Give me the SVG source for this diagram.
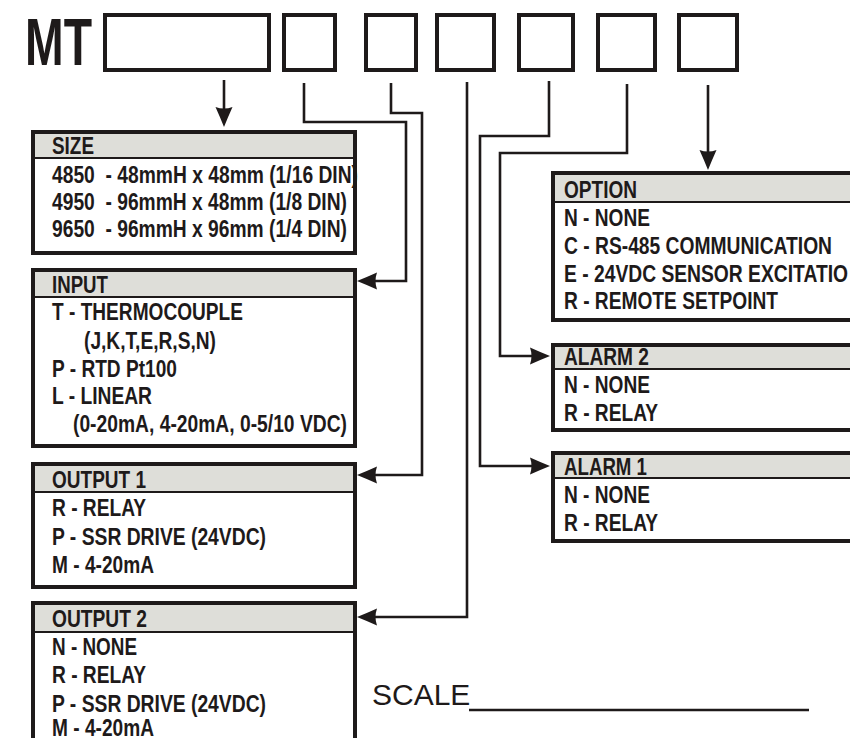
<svg xmlns="http://www.w3.org/2000/svg" width="850" height="738" viewBox="0 0 850 738">
<defs>
<style>
.slot{fill:none;stroke:#1e1a1a;stroke-width:4}
.box{fill:#fff;stroke:#1e1a1a;stroke-width:4}
.hdr{fill:#deded9}
.sep{stroke:#1e1a1a;stroke-width:2}
.t{font-family:"Liberation Sans Narrow","Liberation Sans",Arial,sans-serif;font-weight:bold;font-size:23px;fill:#1e1a1a;white-space:pre}
.conn{fill:none;stroke:#1e1a1a;stroke-width:2.6;stroke-linejoin:miter}
</style>
<marker id="ah" markerUnits="userSpaceOnUse" markerWidth="21" markerHeight="19" viewBox="0 0 21 19" refX="15" refY="9.5" orient="auto">
<path d="M20,9.5 Q10,5.5 0,1 Q3,9.5 0,18 Q10,13.5 20,9.5Z" fill="#1e1a1a"/>
</marker>
</defs>
<rect width="850" height="738" fill="#fff"/>

<g id="header">
<text x="25" y="65" font-family="Liberation Sans Narrow,Liberation Sans,Arial,sans-serif" font-weight="bold" font-size="67" fill="#1e1a1a" textLength="67" lengthAdjust="spacingAndGlyphs">MT</text>
<rect class="slot" x="105" y="15" width="164" height="55"/>
<rect class="slot" x="284" y="15" width="51" height="55"/>
<rect class="slot" x="366" y="15" width="50" height="55"/>
<rect class="slot" x="437" y="15" width="57" height="55"/>
<rect class="slot" x="519" y="15" width="54" height="55"/>
<rect class="slot" x="598" y="15" width="57" height="55"/>
<rect class="slot" x="679" y="15" width="58" height="55"/>
</g>

<g id="connectors">
<path class="conn" d="M224,80 V122" marker-end="url(#ah)"/>
<path class="conn" d="M304,83 V122 H406 V281 H362" marker-end="url(#ah)"/>
<path class="conn" d="M391,83 V113 H422 V475 H362" marker-end="url(#ah)"/>
<path class="conn" d="M467,82 V617 H362" marker-end="url(#ah)"/>
<path class="conn" d="M549,81 V136 H480 V466 H545" marker-end="url(#ah)"/>
<path class="conn" d="M627,84 V153 H500 V356 H545" marker-end="url(#ah)"/>
<path class="conn" d="M708,85 V165" marker-end="url(#ah)"/>
</g>

<g id="size">
<rect class="box" x="33" y="132" width="322" height="121"/>
<rect class="hdr" x="35" y="134" width="318" height="24"/>
<line class="sep" x1="35" y1="158" x2="355" y2="158"/>
<text class="t" x="52" y="154" textLength="42" lengthAdjust="spacingAndGlyphs">SIZE</text>
<text class="t" x="52" y="183" textLength="306" lengthAdjust="spacingAndGlyphs">4850  - 48mmH x 48mm (1/16 DIN)</text>
<text class="t" x="52" y="210" textLength="295" lengthAdjust="spacingAndGlyphs">4950  - 96mmH x 48mm (1/8 DIN)</text>
<text class="t" x="52" y="237" textLength="295" lengthAdjust="spacingAndGlyphs">9650  - 96mmH x 96mm (1/4 DIN)</text>
</g>

<g id="input">
<rect class="box" x="33" y="270" width="322" height="176"/>
<rect class="hdr" x="35" y="272" width="318" height="25"/>
<line class="sep" x1="35" y1="297" x2="355" y2="297"/>
<text class="t" x="52" y="293" textLength="56" lengthAdjust="spacingAndGlyphs">INPUT</text>
<text class="t" x="52" y="320" textLength="191" lengthAdjust="spacingAndGlyphs">T - THERMOCOUPLE</text>
<text class="t" x="84" y="349" textLength="132" lengthAdjust="spacingAndGlyphs">(J,K,T,E,R,S,N)</text>
<text class="t" x="52" y="377" textLength="125" lengthAdjust="spacingAndGlyphs">P - RTD Pt100</text>
<text class="t" x="52" y="404" textLength="100" lengthAdjust="spacingAndGlyphs">L - LINEAR</text>
<text class="t" x="73" y="432" textLength="274" lengthAdjust="spacingAndGlyphs">(0-20mA, 4-20mA, 0-5/10 VDC)</text>
</g>

<g id="output1">
<rect class="box" x="33" y="464" width="322" height="123"/>
<rect class="hdr" x="35" y="466" width="318" height="26"/>
<line class="sep" x1="35" y1="492" x2="355" y2="492"/>
<text class="t" x="52" y="488" textLength="94" lengthAdjust="spacingAndGlyphs">OUTPUT 1</text>
<text class="t" x="52" y="516" textLength="94" lengthAdjust="spacingAndGlyphs">R - RELAY</text>
<text class="t" x="52" y="545" textLength="214" lengthAdjust="spacingAndGlyphs">P - SSR DRIVE (24VDC)</text>
<text class="t" x="52" y="573" textLength="102" lengthAdjust="spacingAndGlyphs">M - 4-20mA</text>
</g>

<g id="output2">
<rect class="box" x="33" y="603" width="322" height="200"/>
<rect class="hdr" x="35" y="605" width="318" height="27"/>
<line class="sep" x1="35" y1="632" x2="355" y2="632"/>
<text class="t" x="52" y="627" textLength="95" lengthAdjust="spacingAndGlyphs">OUTPUT 2</text>
<text class="t" x="52" y="655" textLength="85" lengthAdjust="spacingAndGlyphs">N - NONE</text>
<text class="t" x="52" y="683" textLength="94" lengthAdjust="spacingAndGlyphs">R - RELAY</text>
<text class="t" x="52" y="712" textLength="214" lengthAdjust="spacingAndGlyphs">P - SSR DRIVE (24VDC)</text>
<text class="t" x="52" y="736" textLength="102" lengthAdjust="spacingAndGlyphs">M - 4-20mA</text>
</g>

<g id="option">
<rect class="box" x="553" y="173" width="400" height="147"/>
<rect class="hdr" x="555" y="175" width="396" height="27"/>
<line class="sep" x1="555" y1="202" x2="850" y2="202"/>
<text class="t" x="564" y="198" textLength="73" lengthAdjust="spacingAndGlyphs">OPTION</text>
<text class="t" x="564" y="226" textLength="86" lengthAdjust="spacingAndGlyphs">N - NONE</text>
<text class="t" x="564" y="254" textLength="268" lengthAdjust="spacingAndGlyphs">C - RS-485 COMMUNICATION</text>
<text class="t" x="564" y="282" textLength="284" lengthAdjust="spacingAndGlyphs">E - 24VDC SENSOR EXCITATIO</text>
<text class="t" x="564" y="309" textLength="214" lengthAdjust="spacingAndGlyphs">R - REMOTE SETPOINT</text>
</g>

<g id="alarm2">
<rect class="box" x="553" y="345" width="400" height="85"/>
<rect class="hdr" x="555" y="347" width="396" height="22"/>
<line class="sep" x1="555" y1="369" x2="850" y2="369"/>
<text class="t" x="564" y="365" textLength="85" lengthAdjust="spacingAndGlyphs">ALARM 2</text>
<text class="t" x="564" y="393" textLength="86" lengthAdjust="spacingAndGlyphs">N - NONE</text>
<text class="t" x="564" y="421" textLength="94" lengthAdjust="spacingAndGlyphs">R - RELAY</text>
</g>

<g id="alarm1">
<rect class="box" x="553" y="453" width="400" height="88"/>
<rect class="hdr" x="555" y="455" width="396" height="23"/>
<line class="sep" x1="555" y1="478" x2="850" y2="478"/>
<text class="t" x="564" y="475" textLength="83" lengthAdjust="spacingAndGlyphs">ALARM 1</text>
<text class="t" x="564" y="503" textLength="86" lengthAdjust="spacingAndGlyphs">N - NONE</text>
<text class="t" x="564" y="531" textLength="94" lengthAdjust="spacingAndGlyphs">R - RELAY</text>
</g>

<g id="scale">
<text x="372" y="705" font-family="Liberation Sans,Arial,sans-serif" font-size="30" fill="#1e1a1a">SCALE</text>
<line x1="469" y1="710" x2="809" y2="710" stroke="#1e1a1a" stroke-width="2.3"/>
</g>
</svg>
